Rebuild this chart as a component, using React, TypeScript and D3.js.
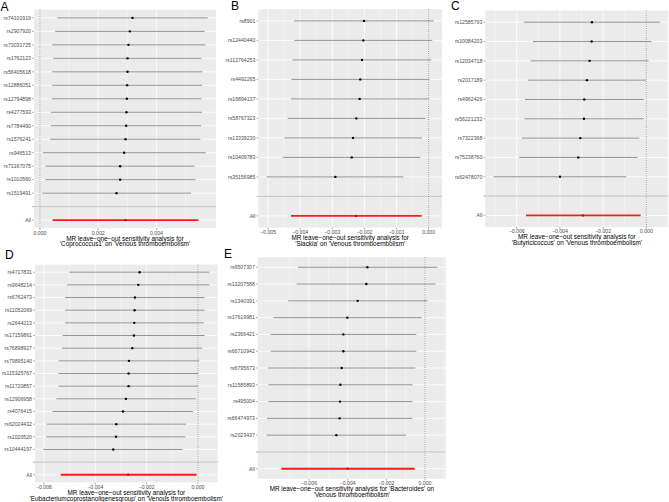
import React from "react"
import * as d3 from "d3"

// A: Coprococcus1
const aSnps = ["rs74101919", "rs2907920", "rs73031725", "rs1762123", "rs56405618", "rs12886051", "rs12794898", "rs4277593", "rs7784490", "rs1576241", "rs946513", "rs73167075", "rs1010560", "rs1519491"]
const aB = [0.003177, 0.003086, 0.00304, 0.003006, 0.003006, 0.002994, 0.002983, 0.002971, 0.00296, 0.002937, 0.002891, 0.002754, 0.002754, 0.002629]
const aLo = [0.000594, 0.000526, 0.000423, 0.000457, 0.000423, 0.000423, 0.000411, 0.000377, 0.000377, 0.000354, 0.000103, 0.000194, 0.000183, 0.00008]
const aHi = [0.00576, 0.005657, 0.00568, 0.005543, 0.005577, 0.005566, 0.005543, 0.005566, 0.005531, 0.005509, 0.005691, 0.005314, 0.005337, 0.005189]
const aAll = [0.000434, 0.002937, 0.00544]
const aTicks = [0, 0.002, 0.004]

// B: Slackia
const bSnps = ["rs8901", "rs12440440", "rs112764253", "rs4492265", "rs16894137", "rs58767323", "rs13339230", "rs10409783", "rs35156985"]
const bB = [-0.002012, -0.002033, -0.002075, -0.002127, -0.002148, -0.002251, -0.002355, -0.002396, -0.002905]
const bLo = [-0.004191, -0.00418, -0.004243, -0.004274, -0.004284, -0.004388, -0.004492, -0.004533, -0.005041]
const bHi = [0.000156, 0.000114, 0.000083, 0.000021, 0.0, -0.000104, -0.000207, -0.000259, -0.000788]
const bAll = [-0.004284, -0.002261, -0.000218]
const bTicks = [-0.005, -0.004, -0.003, -0.002, -0.001, 0]

// C: Butyricicoccus
const cSnps = ["rs12585793", "rs10084203", "rs12034718", "rs2017189", "rs4962426", "rs56221232", "rs7322368", "rs75238760", "rs62478070"]
const cB = [-0.002515, -0.002531, -0.002623, -0.002747, -0.00287, -0.002886, -0.003056, -0.003148, -0.003997]
const cLo = [-0.005664, -0.005247, -0.005355, -0.005478, -0.005617, -0.005633, -0.005772, -0.00588, -0.007068]
const cHi = [0.000633, 0.000231, 0.000108, -0.000015, -0.000123, -0.000123, -0.000324, -0.000401, -0.000926]
const cAll = [-0.005571, -0.002932, -0.000262]
const cTicks = [-0.006, -0.004, -0.002, 0]

// D: Eubacteriumcoprostanoligenesgroup
const dSnps = ["rs4717831", "rs9648214", "rs6762473", "rs11052069", "rs2644213", "rs17159861", "rs76898927", "rs79895140", "rs115325767", "rs11720857", "rs12906958", "rs4076415", "rs62024432", "rs1020520", "rs10444197"]
const dB = [-0.002273, -0.002325, -0.002455, -0.002468, -0.002481, -0.002494, -0.002558, -0.002688, -0.002701, -0.002701, -0.002805, -0.002922, -0.003182, -0.003195, -0.003299]
const dLo = [-0.005013, -0.005091, -0.005182, -0.005182, -0.005182, -0.005273, -0.005299, -0.005429, -0.005429, -0.005429, -0.005519, -0.005662, -0.005896, -0.005909, -0.006026]
const dHi = [0.000442, 0.000442, 0.00026, 0.00026, 0.000221, 0.00026, 0.000169, 0.000052, 0.000013, 0.000013, -0.000078, -0.000195, -0.000468, -0.000494, -0.000597]
const dAll = [-0.005351, -0.002714, -0.000052]
const dTicks = [-0.006, -0.004, -0.002, 0]

// E: Bacteroides
const eSnps = ["rs9507307", "rs13207588", "rs1340391", "rs17619981", "rs2366421", "rs66710942", "rs6795673", "rs11585893", "rs495004", "rs66474973", "rs2023437"]
const eB = [-0.002983, -0.003034, -0.003483, -0.004017, -0.004224, -0.004224, -0.00431, -0.004379, -0.004397, -0.004414, -0.004586]
const eLo = [-0.006569, -0.006638, -0.007086, -0.007845, -0.007983, -0.007983, -0.008103, -0.008103, -0.008103, -0.008172, -0.008207]
const eHi = [0.000638, 0.000552, 0.000121, -0.000172, -0.000448, -0.000448, -0.0005, -0.000638, -0.000655, -0.000655, -0.000983]
const eAll = [-0.007431, -0.004, -0.000534]
const eTicks = [-0.006, -0.004, -0.002, 0]

const FONT = "'Liberation Sans', Arial, Helvetica, sans-serif"
const fmt = d3.format(".3f")

type PanelProps = {
  letter: string
  snps: string[]
  b: number[]
  lo: number[]
  hi: number[]
  all: number[]
  ticks: number[]
  title: string[]
  box: { x0: number; x1: number; y0: number; y1: number }
  letterPos: [number, number]
}

const Panel = ({ letter, snps, b, lo, hi, all, ticks, title, box, letterPos }: PanelProps) => {
  const { x0, x1, y0, y1 } = box
  // ggplot-like 5% expansion of the data range
  const mn = Math.min(d3.min(lo)!, all[0])
  const mx = Math.max(d3.max(hi)!, all[2])
  const pad = (mx - mn) * 0.05
  const x = d3.scaleLinear().domain([mn - pad, mx + pad]).range([x0, x1])
  const levels = [...snps, "", "All"]
  const y = d3.scalePoint<string>().domain(levels).range([y0, y1]).padding(0.6)
  const step = ticks[1] - ticks[0]
  const minor = d3
    .range(ticks.length + 1)
    .map(i => ticks[0] - step / 2 + i * step)
    .filter(v => v > x.domain()[0] && v < x.domain()[1])
  const cx = (x0 + x1) / 2

  return (
    <g>
      <text x={letterPos[0]} y={letterPos[1]} fontSize={12} fontFamily={FONT} fill="#000">
        {letter}
      </text>
      <rect x={x0} y={y0} width={x1 - x0} height={y1 - y0} fill="#EBEBEB" />
      {minor.map((v, i) => (
        <line key={"mn" + i} x1={x(v)} x2={x(v)} y1={y0} y2={y1} stroke="#fff" strokeWidth={0.4} />
      ))}
      {ticks.map((v, i) => (
        <line key={"mj" + i} x1={x(v)} x2={x(v)} y1={y0} y2={y1} stroke="#fff" strokeWidth={0.8} />
      ))}
      {levels.map((l, i) => (
        <line key={"h" + i} x1={x0} x2={x1} y1={y(l)} y2={y(l)} stroke={l === "" ? "#BEBEBE" : "#fff"} strokeWidth={0.8} />
      ))}
      <line x1={x(0)} x2={x(0)} y1={y0} y2={y1} stroke="#333" strokeWidth={0.6} strokeDasharray="0.8,1.4" />
      {snps.map((s, i) => (
        <line key={"e" + i} x1={x(lo[i])} x2={x(hi[i])} y1={y(s)} y2={y(s)} stroke="#7a7a7a" strokeWidth={0.8} />
      ))}
      <line x1={x(all[0])} x2={x(all[2])} y1={y("All")} y2={y("All")} stroke="#ff1a1a" strokeWidth={1.9} />
      {snps.map((s, i) => (
        <circle key={"p" + i} cx={x(b[i])} cy={y(s)} r={1.2} fill="#000" />
      ))}
      <circle cx={x(all[1])} cy={y("All")} r={1.2} fill="#e00000" />
      {/* y axis */}
      {levels.map((l, i) => (
        <g key={"yl" + i}>
          <line x1={x0 - 1.8} x2={x0} y1={y(l)} y2={y(l)} stroke="#333" strokeWidth={0.4} />
          <text x={x0 - 3} y={y(l)! + 1.8} textAnchor="end" fontSize={5.2} fontFamily={FONT} fill="#4D4D4D">
            {l}
          </text>
        </g>
      ))}
      {/* x axis */}
      {ticks.map((v, i) => (
        <g key={"xt" + i}>
          <line x1={x(v)} x2={x(v)} y1={y1} y2={y1 + 1.8} stroke="#333" strokeWidth={0.4} />
          <text x={x(v)} y={y1 + 6.4} textAnchor="middle" fontSize={5.2} fontFamily={FONT} fill="#4D4D4D">
            {fmt(v)}
          </text>
        </g>
      ))}
      <text textAnchor="middle" fontSize={6.4} fontFamily={FONT} fill="#000">
        {title.map((t, i) => (
          <tspan key={i} x={cx} y={y1 + 12.3 + i * 5.8}>
            {t}
          </tspan>
        ))}
      </text>
    </g>
  )
}

const App = () => {
  const sub = "MR leave\u2212one\u2212out sensitivity analysis for"
  return (
    <svg width={669} height={502} style={{ position: "absolute", left: 0, top: 0, background: "#fff" }}>
      <Panel
        letter="A"
        snps={aSnps} b={aB} lo={aLo} hi={aHi} all={aAll} ticks={aTicks}
        title={[sub, "'Coprococcus1' on 'Venous thromboembolism'"]}
        box={{ x0: 34, x1: 216, y0: 9.8, y1: 228.2 }}
        letterPos={[0.5, 10.5]}
      />
      <Panel
        letter="B"
        snps={bSnps} b={bB} lo={bLo} hi={bHi} all={bAll} ticks={bTicks}
        title={[sub, "'Slackia' on 'Venous thromboembolism'"]}
        box={{ x0: 258.4, x1: 442, y0: 9.2, y1: 227.6 }}
        letterPos={[231, 10]}
      />
      <Panel
        letter="C"
        snps={cSnps} b={cB} lo={cLo} hi={cHi} all={cAll} ticks={cTicks}
        title={[sub, "'Butyricicoccus' on 'Venous thromboembolism'"]}
        box={{ x0: 485.3, x1: 668.3, y0: 10.6, y1: 227 }}
        letterPos={[451, 10]}
      />
      <Panel
        letter="D"
        snps={dSnps} b={dB} lo={dLo} hi={dHi} all={dAll} ticks={dTicks}
        title={[sub, "'Eubacteriumcoprostanoligenesgroup' on 'Venous thromboembolism'"]}
        box={{ x0: 35, x1: 217.6, y0: 264.6, y1: 482.4 }}
        letterPos={[5, 259]}
      />
      <Panel
        letter="E"
        snps={eSnps} b={eB} lo={eLo} hi={eHi} all={eAll} ticks={eTicks}
        title={["MR leave\u2212one\u2212out sensitivity analysis for 'Bacteroides' on", "'Venous thromboembolism'"]}
        box={{ x0: 257.8, x1: 445.9, y0: 257.2, y1: 478.8 }}
        letterPos={[224, 257.5]}
      />
    </svg>
  )
}

export default App
